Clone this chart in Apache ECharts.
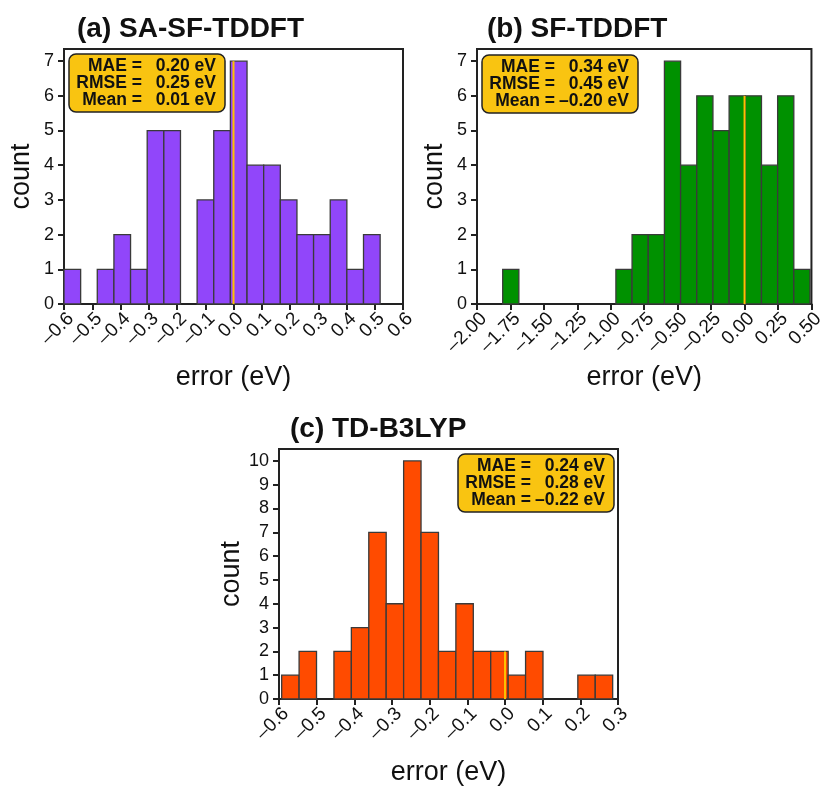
<!DOCTYPE html>
<html>
<head>
<meta charset="utf-8">
<script src="https://cdn.jsdelivr.net/npm/echarts@6/dist/echarts.min.js"></script>
<style>
html,body{margin:0;padding:0;background:#fff;}
#chart{width:827px;height:787px;}
</style>
</head>
<body>
<div id="chart"></div>
<script>
// ---- Data ----
// Panel (a) SA-SF-TDDFT
const aBinStart = -0.600;
const aBinWidth = 0.0589;
const aCounts = [1,0,1,2,1,5,5,0,3,5,7,4,4,3,2,2,3,1,2];
const aStats = ['0.20 eV','0.25 eV','0.01 eV'];
const aTicks = {min:-0.6, max:0.6, step:0.1, dec:1};

// Panel (b) SF-TDDFT
const bBinStart = -1.808;
const bBinWidth = 0.1209;
const bCounts = [1,0,0,0,0,0,0,1,2,2,7,4,6,5,6,6,4,6,1];
const bStats = ['0.34 eV','0.45 eV','\u20130.20 eV'];
const bTicks = {min:-2.0, max:0.5, step:0.25, dec:2};

// Panel (c) TD-B3LYP
const cBinStart = -0.5929;
const cBinWidth = 0.04625;
const cCounts = [1,2,0,2,3,7,4,10,7,2,4,2,2,1,2,0,0,1,1];
const cStats = ['0.24 eV','0.28 eV','\u20130.22 eV'];
const cTicks = {min:-0.6, max:0.3, step:0.1, dec:1};

const titles = ['(a) SA-SF-TDDFT','(b) SF-TDDFT','(c) TD-B3LYP'];
const statLabels = ['MAE =','RMSE =','Mean ='];
const colors = ['#9146FA','#009100','#FF4B00'];

// ---- Layout ----
const FONT = '"Liberation Sans", Arial, Helvetica, sans-serif';
const grids = [
  {left:64, top:49, width:339, height:255},
  {left:477, top:49, width:338, height:255},
  {left:279, top:449, width:339, height:255}
];
const titlePos = [[77,29.6],[487,29.6],[290,429.6]];
const boxPos = [[69,54],[482,55],[458,454]];

const panels = [
  {start:aBinStart, w:aBinWidth, counts:aCounts, stats:aStats, ticks:aTicks},
  {start:bBinStart, w:bBinWidth, counts:bCounts, stats:bStats, ticks:bTicks},
  {start:cBinStart, w:cBinWidth, counts:cCounts, stats:cStats, ticks:cTicks}
];

function fmt(dec){
  return function(v){
    const r = Math.round(v*10000)/10000;
    const s = Math.abs(r).toFixed(dec);
    return (r < 0 ? '\u2013' : '') + s;
  };
}

const option = {
  backgroundColor:'#fff',
  animation:false,
  grid: grids.map(g => Object.assign({show:true, borderColor:'#222', borderWidth:2, backgroundColor:'transparent'}, g)),
  xAxis: [], yAxis: [], series: [], graphic: []
};

panels.forEach((p, i) => {
  const maxC = Math.max.apply(null, p.counts);
  option.xAxis.push({
    type:'value', gridIndex:i, min:p.ticks.min, max:p.ticks.max, interval:p.ticks.step,
    name:'error (eV)', nameLocation:'middle', nameGap:60,
    nameTextStyle:{fontFamily:FONT, fontSize:27, color:'#111'},
    axisLine:{show:true, onZero:false, lineStyle:{color:'#222', width:2}},
    axisTick:{show:true, inside:false, length:6, lineStyle:{color:'#222', width:2}},
    axisLabel:{show:true, rotate:45, margin:5, verticalAlign:'top', fontFamily:FONT, fontSize:19, color:'#111', formatter:fmt(p.ticks.dec), showMinLabel:true, showMaxLabel:true, hideOverlap:false},
    splitLine:{show:false}
  });
  option.yAxis.push({
    type:'value', gridIndex:i, min:0, max:maxC*1.05, interval:1,
    name:'count', nameLocation:'middle', nameGap:29,
    nameTextStyle:{fontFamily:FONT, fontSize:27, color:'#111'},
    axisLine:{show:true, onZero:false, lineStyle:{color:'#222', width:2}},
    axisTick:{show:true, inside:false, length:6, lineStyle:{color:'#222', width:2}},
    axisLabel:{show:true, margin:10, fontFamily:FONT, fontSize:18, color:'#111',
      formatter: v => (Math.abs(v - Math.round(v)) < 1e-6 ? String(Math.round(v)) : ''), showMaxLabel:false},
    splitLine:{show:false}
  });
  const data = p.counts.map((c, k) => [p.start + k*p.w, p.start + (k+1)*p.w, c]);
  const color = colors[i];
  option.series.push({
    type:'custom', xAxisIndex:i, yAxisIndex:i, data:data, z:2, clip:false,
    renderItem: function(params, api){
      const c = api.value(2);
      if (!c) return null;
      const p0 = api.coord([api.value(0), c]);
      const p1 = api.coord([api.value(1), 0]);
      return {type:'rect', shape:{x:p0[0], y:p0[1], width:p1[0]-p0[0], height:p1[1]-p0[1]},
        style:{fill:color, stroke:'#3a3a3a', lineWidth:1.3}};
    }
  });
  // zero marker: height of the bin that contains 0
  let k0 = Math.floor((0 - p.start)/p.w);
  const h0 = p.counts[Math.max(0, Math.min(p.counts.length-1, k0))];
  option.series.push({
    type:'line', xAxisIndex:i, yAxisIndex:i, data:[[0,0],[0,h0]], symbol:'none', z:5,
    lineStyle:{color:'#FFC000', width:2}, silent:true
  });
  // title
  option.graphic.push({
    type:'text', x:titlePos[i][0], y:titlePos[i][1],
    style:{text:titles[i], font:'bold 28px ' + FONT, fill:'#111', textVerticalAlign:'middle', verticalAlign:'middle'}
  });
  // stats box
  const bx = boxPos[i][0], by = boxPos[i][1];
  option.graphic.push({
    type:'group', x:bx, y:by, z:100,
    children:[
      {type:'rect', shape:{x:0, y:0, width:156, height:58, r:7}, style:{fill:'#F9C411', stroke:'#222', lineWidth:1.5}},
      {type:'text', x:73, y:29, style:{text:statLabels.join('\n'), font:'bold 17.5px ' + FONT, fill:'#111', align:'right', textAlign:'right', verticalAlign:'middle', textVerticalAlign:'middle', lineHeight:17}},
      {type:'text', x:147, y:29, style:{text:p.stats.join('\n'), font:'bold 17.5px ' + FONT, fill:'#111', align:'right', textAlign:'right', verticalAlign:'middle', textVerticalAlign:'middle', lineHeight:17}}
    ]
  });
});

const chart = echarts.init(document.getElementById('chart'), null, {renderer:'canvas'});
chart.setOption(option);
</script>
</body>
</html>
